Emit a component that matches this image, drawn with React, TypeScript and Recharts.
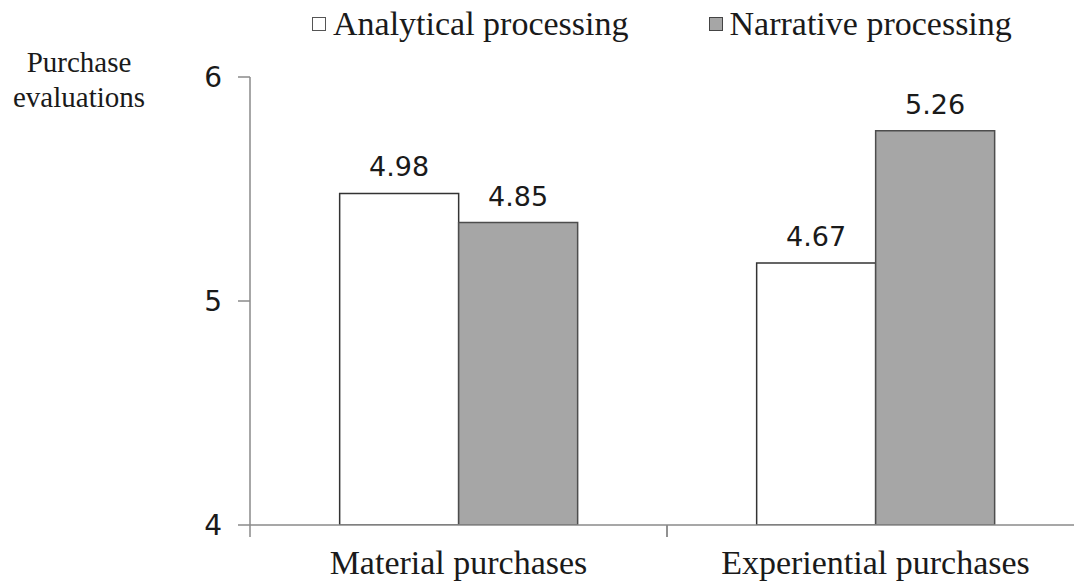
import React from 'react';
import { BarChart, Bar, XAxis, YAxis, LabelList } from 'recharts';

const categories = ['Material purchases', 'Experiential purchases'];
const seriesNames = ['Analytical processing', 'Narrative processing'];
// bar heights as drawn in the picture
const analyticalValues = [5.48, 5.17];
const narrativeValues = [5.35, 5.76];
// printed value labels
const analyticalLabels = ['4.98', '4.67'];
const narrativeLabels = ['4.85', '5.26'];
const yTicks = [4, 5, 6];

const data = categories.map((c, i) => ({
  name: c,
  analytical: analyticalValues[i],
  narrative: narrativeValues[i],
  aLabel: analyticalLabels[i],
  nLabel: narrativeLabels[i],
}));

const AXIS = '#8a8a8a';
const TEXT = '#1a1a1a';
const SERIF = '"Liberation Serif", "Times New Roman", serif';
const SANS = '"DejaVu Sans", Verdana, sans-serif';

const XTick = (props: any) => {
  const { x, y, payload } = props;
  const off = payload && typeof payload.offset === 'number' ? payload.offset : 0;
  return (
    <g>
      <line x1={x - off} x2={x - off} y1={y} y2={y + 12} stroke={AXIS} strokeWidth={1.5} />
      <line x1={x + off} x2={x + off} y1={y} y2={y + 12} stroke={AXIS} strokeWidth={1.5} />
      <text x={x} y={y + 49} textAnchor="middle" fontFamily={SERIF} fontSize={34} fill={TEXT}>
        {payload.value}
      </text>
    </g>
  );
};

const LegendItem = ({ label, fill, stroke }: { label: string; fill: string; stroke: string }) => (
  <div style={{ display: 'flex', alignItems: 'center' }}>
    <div
      style={{
        width: 12,
        height: 12,
        background: fill,
        border: `1.5px solid ${stroke}`,
        marginRight: 7,
        boxSizing: 'content-box',
      }}
    />
    <span>{label}</span>
  </div>
);

export default function App() {
  return (
    <div
      style={{
        position: 'absolute',
        left: 0,
        top: 0,
        width: 1074,
        height: 584,
        overflow: 'hidden',
        background: '#fff',
      }}
    >
      <BarChart
        width={1090}
        height={584}
        data={data}
        margin={{ top: 77, right: 6, bottom: 0, left: 0 }}
        barCategoryGap="21.5%"
        barGap={0}
      >
        <XAxis
          dataKey="name"
          height={59}
          axisLine={{ stroke: AXIS, strokeWidth: 1.5 }}
          tickLine={false}
          tickSize={0}
          tickMargin={0}
          tick={<XTick />}
          interval={0}
        />
        <YAxis
          width={250}
          domain={[4, 6]}
          ticks={yTicks}
          allowDataOverflow
          axisLine={{ stroke: AXIS, strokeWidth: 1.5 }}
          tickLine={{ stroke: AXIS, strokeWidth: 1.5 }}
          tickSize={12}
          tickMargin={16}
          tick={{ fontFamily: SANS, fontSize: 28, fill: TEXT }}
        />
        <Bar dataKey="analytical" fill="#ffffff" stroke="#333333" strokeWidth={1.5} isAnimationActive={false}>
          <LabelList dataKey="aLabel" position="top" offset={17} fontFamily={SANS} fontSize={27} fill={TEXT} />
        </Bar>
        <Bar dataKey="narrative" fill="#a6a6a6" stroke="#4d4d4d" strokeWidth={1.5} isAnimationActive={false}>
          <LabelList dataKey="nLabel" position="top" offset={17} fontFamily={SANS} fontSize={27} fill={TEXT} />
        </Bar>
      </BarChart>

      <div
        style={{
          position: 'absolute',
          left: 312,
          top: 5,
          display: 'flex',
          gap: 80,
          fontFamily: SERIF,
          fontSize: 34,
          color: TEXT,
          lineHeight: '38px',
          whiteSpace: 'nowrap',
        }}
      >
        <LegendItem label={seriesNames[0]} fill="#ffffff" stroke="#555555" />
        <LegendItem label={seriesNames[1]} fill="#a6a6a6" stroke="#444444" />
      </div>

      <div
        style={{
          position: 'absolute',
          left: 0,
          top: 45,
          width: 158,
          textAlign: 'center',
          fontFamily: SERIF,
          fontSize: 29,
          lineHeight: '35px',
          color: TEXT,
        }}
      >
        Purchase
        <br />
        evaluations
      </div>
    </div>
  );
}
